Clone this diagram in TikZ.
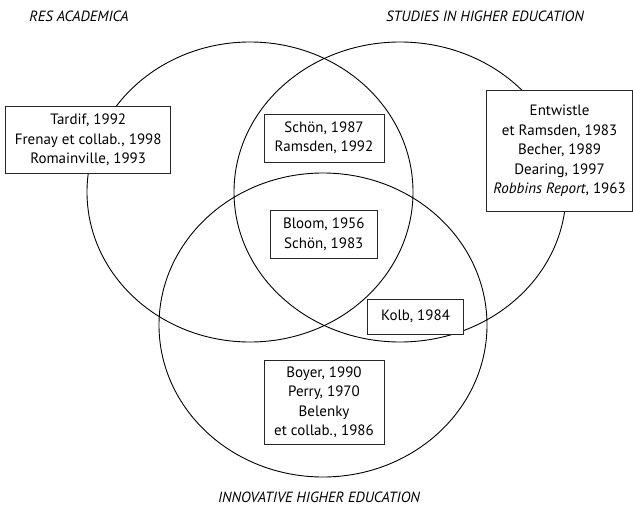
\documentclass[tikz,border=0pt]{standalone}
\usepackage{fontspec}
\setmainfont{PT Sans}
\begin{document}
\begin{tikzpicture}[x=1pt,y=-1pt,
  set/.style={draw=black,line width=0.9pt},
  refbox/.style={draw=black!85,line width=0.8pt,fill=white,align=center,inner sep=0pt,
    font=\fontsize{15}{19.5}\selectfont},
  journal/.style={font=\fontsize{14.8}{17}\selectfont\itshape}]
\useasboundingbox (0,0) rectangle (633,506);
\draw[set] (250,192) ellipse [x radius=163pt, y radius=150pt];
\draw[set] (400,192) ellipse [x radius=166pt, y radius=150pt];
\draw[set] (323,325) ellipse [x radius=164pt, y radius=152pt];
\node[refbox,minimum width=165pt,minimum height=66.6pt] (tardif) at (88.2,140)
  {Tardif, 1992\\Frenay et collab., 1998\\Romainville, 1993};
\node[refbox,minimum width=120pt,minimum height=48pt] (schon) at (324,138)
  {Schön, 1987\\Ramsden, 1992};
\node[refbox,minimum width=145.8pt,minimum height=121.7pt] (entw) at (559.6,150.8)
  {Entwistle\\et Ramsden, 1983\\Becher, 1989\\Dearing, 1997\\\textit{Robbins Report}, 1963};
\node[refbox,minimum width=107.7pt,minimum height=47.6pt] (bloom) at (323.8,234.5)
  {Bloom, 1956\\Schön, 1983};
\node[refbox,minimum width=95.6pt,minimum height=35pt] (kolb) at (415.5,316.5)
  {Kolb, 1984};
\node[refbox,minimum width=120pt,minimum height=83.6pt] (boyer) at (324,402.5)
  {Boyer, 1990\\Perry, 1970\\Belenky\\et collab., 1986};
\node[journal] (res) at (79,16) {RES ACADEMICA};
\node[journal] (she) at (485,16) {STUDIES IN HIGHER EDUCATION};
\node[journal] (ihe) at (319,497) {INNOVATIVE HIGHER EDUCATION};
\end{tikzpicture}
\end{document}
